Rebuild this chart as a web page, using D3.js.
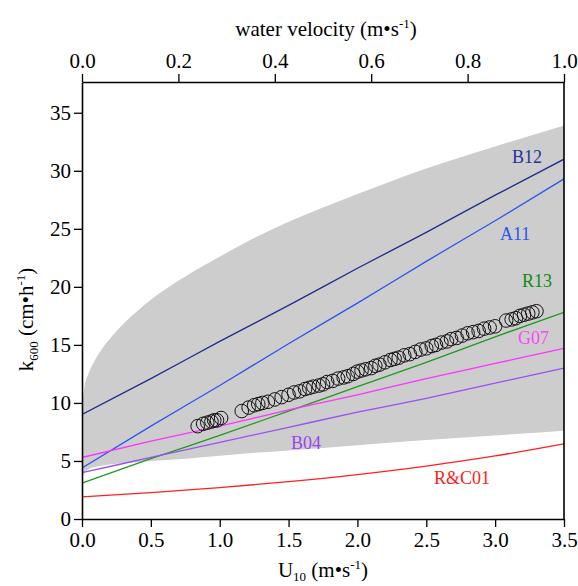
<!DOCTYPE html>
<html>
<head>
<meta charset="utf-8">
<script src="https://cdn.jsdelivr.net/npm/d3@7/dist/d3.min.js"></script>
<style>
  html, body { margin: 0; padding: 0; background: #fff; }
  svg { display: block; }
  text { font-family: "Liberation Serif", "Times New Roman", serif; }
</style>
</head>
<body>
<svg id="chart" width="578" height="586"></svg>
<script>
// Wind speed (U10, m/s) and measured k600 (cm/h)
const obsU = [0.84,0.88,0.91,0.94,0.96,0.98,1.01,
  1.16,1.21,1.25,1.28,1.31,1.35,
  1.40,1.45,1.50,1.54,1.58,1.62,1.65,1.68,1.72,1.75,1.78,1.82,1.86,1.90,1.93,1.97,
  2.00,2.03,2.06,2.10,2.13,2.16,2.20,2.24,2.27,2.30,2.34,2.38,2.42,2.46,2.50,2.54,
  2.57,2.61,2.65,2.68,2.72,2.76,2.80,2.84,2.88,2.92,2.96,3.00,
  3.08,3.12,3.15,3.18,3.21,3.24,3.27,3.30];
const obsK = [8.0,8.2,8.3,8.4,8.5,8.5,8.7,
  9.3,9.6,9.8,9.9,10.0,10.1,
  10.3,10.5,10.7,10.9,11.0,11.2,11.3,11.4,11.5,11.6,11.8,11.9,12.1,12.2,12.3,12.5,
  12.7,12.8,12.9,13.0,13.2,13.3,13.5,13.7,13.8,13.9,14.1,14.2,14.4,14.6,14.7,14.9,
  15.0,15.2,15.3,15.5,15.6,15.8,16.0,16.1,16.2,16.4,16.5,16.6,
  17.1,17.2,17.3,17.5,17.6,17.7,17.8,17.9];

// Envelope of k600 values (grey band)
const bandU     = [0, 0.02, 0.05, 0.1, 0.2, 0.3, 0.5, 0.75, 1.0, 1.25, 1.5, 2.0, 2.5, 3.0, 3.5];
const bandUpper = [9.7, 11.5, 12.6, 13.8, 15.5, 16.8, 18.9, 20.9, 22.6, 24.2, 25.6, 28.0, 30.2, 32.1, 33.9];
const bandLower = [3.6, 4.0, 4.3, 4.5, 4.7, 4.8, 5.0, 5.2, 5.45, 5.7, 5.9, 6.35, 6.8, 7.2, 7.6];

// Published wind-based k600 relationships
const modelU = [0, 0.5, 1.0, 1.5, 2.0, 2.5, 3.0, 3.5];
const models = [
  { name: "B12",   color: "#1f2c8c", label: "#2233a0", k: [9.0, 12.1, 15.3, 18.4, 21.6, 24.7, 27.9, 31.0], lx: 512, ly: 163 },
  { name: "A11",   color: "#2a55ee", label: "#2a55ee", k: [4.4, 8.0, 11.5, 15.1, 18.6, 22.2, 25.7, 29.3], lx: 500, ly: 240 },
  { name: "R13",   color: "#1e9a1e", label: "#128a12", k: [3.1, 5.2, 7.2, 9.3, 11.4, 13.5, 15.7, 17.8], lx: 522, ly: 287 },
  { name: "G07",   color: "#ff33ff", label: "#ff44ff", k: [5.3, 6.7, 8.0, 9.4, 10.7, 12.1, 13.4, 14.7], lx: 518, ly: 344 },
  { name: "B04",   color: "#9a50f0", label: "#9a44ee", k: [4.0, 5.3, 6.6, 7.9, 9.2, 10.4, 11.7, 13.0], lx: 291, ly: 449 },
  { name: "R&C01", color: "#ff2020", label: "#ff2020", k: [1.91, 2.27, 2.70, 3.22, 3.83, 4.56, 5.43, 6.47], lx: 434, ly: 484 }
];

const xTicks = [0, 0.5, 1.0, 1.5, 2.0, 2.5, 3.0, 3.5];
const yTicks = [0, 5, 10, 15, 20, 25, 30, 35];
const topTicks = [0, 0.2, 0.4, 0.6, 0.8, 1.0];

const W = 578, H = 586;
const m = { left: 82, right: 14, top: 82, bottom: 67 };
const iw = W - m.left - m.right, ih = H - m.top - m.bottom;

const svg = d3.select("#chart");
const g = svg.append("g").attr("transform", `translate(${m.left},${m.top})`);

const x = d3.scaleLinear().domain([0, 3.5]).range([0, iw]);
const xTop = d3.scaleLinear().domain([0, 1.0]).range([0, iw]);
const y = d3.scaleLinear().domain([0, 37.65]).range([ih, 0]);

svg.append("defs").append("clipPath").attr("id", "plotClip")
  .append("rect").attr("width", iw).attr("height", ih);

const plot = g.append("g").attr("clip-path", "url(#plotClip)");

// grey band
const bandData = bandU.map((u, i) => ({ u, lo: bandLower[i], hi: bandUpper[i] }));
plot.append("path")
  .datum(bandData)
  .attr("fill", "#cdcdcd")
  .attr("d", d3.area().curve(d3.curveMonotoneX)
    .x(d => x(d.u)).y0(d => y(d.lo)).y1(d => y(d.hi)));

// model lines
const line = d3.line().curve(d3.curveMonotoneX).x(d => x(d[0])).y(d => y(d[1]));
models.forEach(md => {
  plot.append("path")
    .datum(modelU.map((u, i) => [u, md.k[i]]))
    .attr("fill", "none")
    .attr("stroke", md.color)
    .attr("stroke-width", 1.3)
    .attr("d", line);
});

// observations
plot.append("g").selectAll("circle")
  .data(obsU.map((u, i) => [u, obsK[i]]))
  .join("circle")
  .attr("cx", d => x(d[0]))
  .attr("cy", d => y(d[1]))
  .attr("r", 6.8)
  .attr("fill", "none")
  .attr("stroke", "#111")
  .attr("stroke-width", 1);

// model labels
models.forEach(md => {
  svg.append("text")
    .attr("x", md.lx).attr("y", md.ly)
    .attr("fill", md.label)
    .attr("font-size", 18)
    .text(md.name);
});

// axes
function styleAxis(sel) {
  sel.select(".domain").attr("stroke", "#000").attr("stroke-width", 1.6);
  sel.selectAll(".tick line").attr("stroke", "#000").attr("stroke-width", 1.3);
  sel.selectAll(".tick text").attr("fill", "#000")
    .attr("font-family", "Liberation Serif, Times New Roman, serif")
    .attr("font-size", 21);
}

g.append("g").attr("transform", `translate(0,${ih})`)
  .call(d3.axisBottom(x).tickValues(xTicks).tickFormat(d3.format(".1f")).tickSize(8).tickSizeOuter(0).tickPadding(5))
  .call(styleAxis);

g.append("g")
  .call(d3.axisTop(xTop).tickValues(topTicks).tickFormat(d3.format(".1f")).tickSize(8).tickSizeOuter(0).tickPadding(6))
  .call(styleAxis);

g.append("g")
  .call(d3.axisLeft(y).tickValues(yTicks).tickFormat(d3.format("d")).tickSize(8).tickSizeOuter(0).tickPadding(3))
  .call(styleAxis);

g.append("line")
  .attr("x1", iw).attr("x2", iw).attr("y1", 0).attr("y2", ih)
  .attr("stroke", "#000").attr("stroke-width", 1.6);

// axis titles
const topTitle = svg.append("text")
  .attr("x", m.left + iw / 2 + 3).attr("y", 36)
  .attr("text-anchor", "middle").attr("font-size", 21);
topTitle.append("tspan").text("water velocity (m\u2022s");
topTitle.append("tspan").attr("font-size", 13).attr("dy", -8).text("-1");
topTitle.append("tspan").attr("dy", 8).text(")");

const bottomTitle = svg.append("text")
  .attr("x", m.left + iw / 2).attr("y", 577)
  .attr("text-anchor", "middle").attr("font-size", 21);
bottomTitle.append("tspan").text("U");
bottomTitle.append("tspan").attr("font-size", 13).attr("dy", 4).text("10");
bottomTitle.append("tspan").attr("dy", -4).text(" (m\u2022s");
bottomTitle.append("tspan").attr("font-size", 13).attr("dy", -8).text("-1");
bottomTitle.append("tspan").attr("dy", 8).text(")");

const leftTitle = svg.append("text")
  .attr("transform", `translate(33,${m.top + ih / 2 + 19}) rotate(-90)`)
  .attr("text-anchor", "middle").attr("font-size", 21);
leftTitle.append("tspan").text("k");
leftTitle.append("tspan").attr("font-size", 13).attr("dy", 5).text("600");
leftTitle.append("tspan").attr("dy", -5).text(" (cm\u2022h");
leftTitle.append("tspan").attr("font-size", 13).attr("dy", -8).text("-1");
leftTitle.append("tspan").attr("dy", 8).text(")");
</script>
</body>
</html>
